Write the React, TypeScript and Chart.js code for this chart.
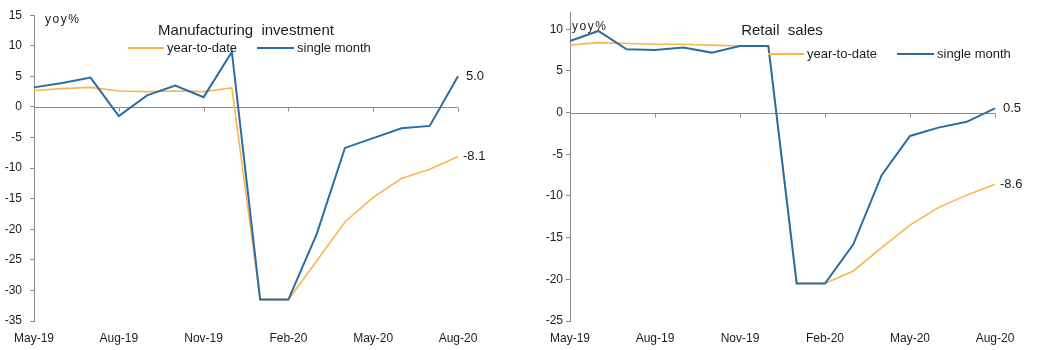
import React, { useEffect, useRef } from 'react';
import { Chart, registerables } from 'chart.js';

Chart.register(...registerables);

// ---------- data ----------
const months = [
  'May-19', 'Jun-19', 'Jul-19', 'Aug-19', 'Sep-19', 'Oct-19', 'Nov-19', 'Dec-19',
  'Jan-20', 'Feb-20', 'Mar-20', 'Apr-20', 'May-20', 'Jun-20', 'Jul-20', 'Aug-20',
];
const xTickLabels = ['May-19', 'Aug-19', 'Nov-19', 'Feb-20', 'May-20', 'Aug-20'];

const mfgYtd = [2.7, 3.0, 3.2, 2.6, 2.5, 2.6, 2.5, 3.1, -31.5, -31.5, -25.2, -18.8, -14.8, -11.7, -10.2, -8.1];
const mfgMonth = [3.2, 3.9, 4.8, -1.5, 1.9, 3.5, 1.6, 9.0, -31.5, -31.5, -20.8, -6.7, -5.1, -3.5, -3.1, 5.0];
const mfgYTicks = [-35, -30, -25, -20, -15, -10, -5, 0, 5, 10, 15];

const retailYtd = [8.1, 8.4, 8.3, 8.2, 8.2, 8.1, 8.0, 8.0, -20.5, -20.5, -19.0, -16.2, -13.5, -11.4, -9.9, -8.6];
const retailMonth = [8.6, 9.8, 7.6, 7.5, 7.8, 7.2, 8.0, 8.0, -20.5, -20.5, -15.8, -7.5, -2.8, -1.8, -1.1, 0.5];
const retailYTicks = [-25, -20, -15, -10, -5, 0, 5, 10];

const seriesNames = ['year-to-date', 'single month'];

// ---------- styles ----------
const ORANGE = '#F8B74E';
const BLUE = '#2B6CA3';
const AXIS = '#8a8a8a';
const TEXT = '#1c1c1c';
const FONT = '"Liberation Sans", Arial, Helvetica, sans-serif';

const zeroAxisPlugin = {
  id: 'zeroAxis',
  beforeDatasetsDraw(chart: any) {
    const { ctx, chartArea, scales } = chart;
    const x = scales.x;
    const y = scales.y;
    const y0 = Math.round(y.getPixelForValue(0)) + 0.5;
    ctx.save();
    ctx.strokeStyle = AXIS;
    ctx.lineWidth = 1;
    ctx.beginPath();
    ctx.moveTo(chartArea.left, y0);
    ctx.lineTo(chartArea.right, y0);
    months.forEach((m, i) => {
      if (xTickLabels.includes(m)) {
        const px = Math.round(x.getPixelForValue(i)) + 0.5;
        ctx.moveTo(px, y0);
        ctx.lineTo(px, y0 + 4);
      }
    });
    ctx.stroke();
    ctx.restore();
  },
};

const endLabelPlugin = {
  id: 'endLabels',
  afterDatasetsDraw(chart: any) {
    const { ctx } = chart;
    ctx.save();
    ctx.font = `13px ${FONT}`;
    ctx.fillStyle = TEXT;
    ctx.textBaseline = 'middle';
    ctx.textAlign = 'left';
    chart.data.datasets.forEach((ds: any, di: number) => {
      const meta = chart.getDatasetMeta(di);
      const pt = meta.data[meta.data.length - 1];
      const v = ds.data[ds.data.length - 1];
      ctx.fillText(Number(v).toFixed(1), pt.x + (ds.endLabelOffset || 6), pt.y);
    });
    ctx.restore();
  },
};

function makeConfig(ytd: number[], month: number[], yTicks: number[], yMax: number, pad: any, yLabelPad: number, yWidth: number) {
  return {
    type: 'line',
    data: {
      labels: months,
      datasets: [
        {
          label: seriesNames[0],
          data: ytd,
          borderColor: ORANGE,
          backgroundColor: ORANGE,
          borderWidth: 1.6,
          pointRadius: 0,
          tension: 0,
          order: 1,
          endLabelOffset: 5,
        },
        {
          label: seriesNames[1],
          data: month,
          borderColor: BLUE,
          backgroundColor: BLUE,
          borderWidth: 2,
          pointRadius: 0,
          tension: 0,
          order: 0,
          endLabelOffset: 8,
        },
      ],
    },
    options: {
      responsive: false,
      animation: false,
      events: [],
      layout: { padding: pad },
      plugins: {
        legend: { display: false },
        title: { display: false },
        tooltip: { enabled: false },
      },
      scales: {
        x: {
          type: 'category',
          offset: false,
          grid: { display: false, drawTicks: false },
          border: { display: false },
          afterFit: (scale: any) => {
            scale.height = 24;
          },
          ticks: {
            autoSkip: false,
            maxRotation: 0,
            minRotation: 0,
            padding: 10,
            color: TEXT,
            font: { family: FONT, size: 12 },
            callback: (_v: any, i: number) => (xTickLabels.includes(months[i]) ? months[i] : ''),
          },
        },
        y: {
          min: yTicks[0],
          max: yMax,
          afterBuildTicks: (scale: any) => {
            scale.ticks = yTicks.map((v) => ({ value: v }));
          },
          afterFit: (scale: any) => {
            scale.width = yWidth;
          },
          grid: {
            drawOnChartArea: false,
            drawTicks: true,
            tickLength: 4,
            color: AXIS,
            tickColor: AXIS,
          },
          border: { display: true, color: AXIS, width: 1 },
          ticks: {
            padding: yLabelPad,
            color: TEXT,
            font: { family: FONT, size: 12 },
          },
        },
      },
    },
    plugins: [zeroAxisPlugin, endLabelPlugin],
  };
}

function Panel(props: {
  left: number;
  width: number;
  config: any;
  title: string;
  titleX: number;
  titleY: number;
  yoyX: number;
  yoyY: number;
  legendX: number;
  legendY: number;
}) {
  const ref = useRef<HTMLCanvasElement>(null);
  useEffect(() => {
    const chart = new Chart(ref.current as HTMLCanvasElement, props.config);
    return () => chart.destroy();
  }, []);
  const textStyle: React.CSSProperties = { position: 'absolute', fontFamily: FONT, color: TEXT, whiteSpace: 'pre', lineHeight: 1 };
  return (
    <div style={{ position: 'absolute', left: props.left, top: 0, width: props.width, height: 350 }}>
      <canvas ref={ref} width={props.width} height={350} style={{ display: 'block' }} />
      <div style={{ ...textStyle, fontSize: 15, left: props.titleX, top: props.titleY, transform: 'translateX(-50%)' }}>{props.title}</div>
      <div style={{ ...textStyle, fontSize: 12, letterSpacing: 1.5, left: props.yoyX, top: props.yoyY }}>yoy%</div>
      <div style={{ position: 'absolute', left: props.legendX, top: props.legendY, display: 'flex', alignItems: 'center', fontFamily: FONT, fontSize: 13, color: TEXT, lineHeight: 1, whiteSpace: 'pre' }}>
        <span style={{ display: 'inline-block', width: 36, height: 2, background: ORANGE, marginRight: 3 }} />
        <span>{seriesNames[0]}</span>
        <span style={{ display: 'inline-block', width: 37, height: 2, background: BLUE, marginLeft: 20, marginRight: 3 }} />
        <span>{seriesNames[1]}</span>
      </div>
    </div>
  );
}

export default function App() {
  const leftCfg = makeConfig(mfgYtd, mfgMonth, mfgYTicks, 15, { top: 14, right: 62, bottom: 5, left: 0 }, 8, 34);
  const rightCfg = makeConfig(retailYtd, retailMonth, retailYTicks, 12, { top: 12.6, right: 44, bottom: 5, left: 0 }, 3, 50);
  return (
    <div style={{ position: 'absolute', left: 0, top: 0, width: 1039, height: 350, background: '#fff', overflow: 'hidden' }}>
      <Panel
        left={0}
        width={520}
        config={leftCfg}
        title="Manufacturing  investment"
        titleX={246}
        titleY={22}
        yoyX={45}
        yoyY={13}
        legendX={128}
        legendY={41}
      />
      <Panel
        left={520}
        width={519}
        config={rightCfg}
        title="Retail  sales"
        titleX={262}
        titleY={22}
        yoyX={52}
        yoyY={20}
        legendX={248}
        legendY={47}
      />
    </div>
  );
}
